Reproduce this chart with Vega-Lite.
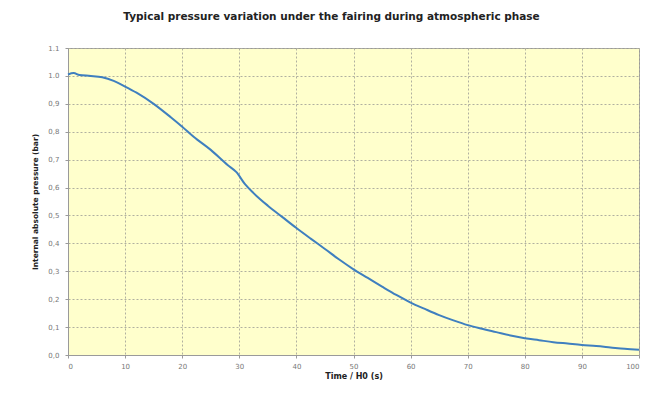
{
  "$schema": "https://vega.github.io/schema/vega-lite/v6.json",
  "width": 571,
  "height": 307,
  "autosize": {"type": "none"},
  "padding": {"left": 68, "top": 48, "right": 6, "bottom": 40},
  "background": "white",
  "title": {
    "text": "Typical pressure variation under the fairing during atmospheric phase",
    "font": "DejaVu Sans",
    "fontSize": 10.5,
    "fontWeight": "bold",
    "color": "#222222",
    "anchor": "middle",
    "dx": -22,
    "offset": 22
  },
  "config": {
    "view": {"fill": "#FFFFCC", "stroke": "#9a9a9a", "strokeWidth": 1}
  },
  "data": {
    "values": [
      {"t": 0, "p": 1.005},
      {"t": 1, "p": 1.01},
      {"t": 2, "p": 1.003},
      {"t": 4, "p": 1.0},
      {"t": 6, "p": 0.995},
      {"t": 8, "p": 0.982},
      {"t": 10, "p": 0.962},
      {"t": 12, "p": 0.94},
      {"t": 15, "p": 0.9},
      {"t": 18, "p": 0.852},
      {"t": 20, "p": 0.818},
      {"t": 22, "p": 0.782},
      {"t": 25, "p": 0.735},
      {"t": 28, "p": 0.68},
      {"t": 29.5, "p": 0.655},
      {"t": 31, "p": 0.612},
      {"t": 32.5, "p": 0.58},
      {"t": 35, "p": 0.535},
      {"t": 37.5, "p": 0.495},
      {"t": 40, "p": 0.455},
      {"t": 42.5, "p": 0.417},
      {"t": 45, "p": 0.38},
      {"t": 47.5, "p": 0.342},
      {"t": 50, "p": 0.307},
      {"t": 52.5, "p": 0.276},
      {"t": 55, "p": 0.245},
      {"t": 57.5, "p": 0.215},
      {"t": 60, "p": 0.188},
      {"t": 62.5, "p": 0.165},
      {"t": 65, "p": 0.143},
      {"t": 67.5, "p": 0.124},
      {"t": 70, "p": 0.107},
      {"t": 72.5, "p": 0.094},
      {"t": 75, "p": 0.082},
      {"t": 77.5, "p": 0.07},
      {"t": 80, "p": 0.06},
      {"t": 82.5, "p": 0.053},
      {"t": 85, "p": 0.046},
      {"t": 87.5, "p": 0.041},
      {"t": 90, "p": 0.036},
      {"t": 92.5, "p": 0.032},
      {"t": 95, "p": 0.027},
      {"t": 97.5, "p": 0.022},
      {"t": 100, "p": 0.019}
    ]
  },
  "mark": {"type": "line", "color": "#3f7fbf", "strokeWidth": 2, "interpolate": "monotone"},
  "encoding": {
    "x": {
      "field": "t",
      "type": "quantitative",
      "scale": {"domain": [0, 100], "nice": false},
      "axis": {
        "values": [0, 10, 20, 30, 40, 50, 60, 70, 80, 90, 100],
        "title": "Time / H0 (s)",
        "titleFont": "DejaVu Sans",
        "titleFontSize": 8,
        "titleFontWeight": "bold",
        "titleColor": "#222222",
        "titlePadding": 3,
        "labelFont": "DejaVu Sans",
        "labelFontSize": 7,
        "labelColor": "#777777",
        "labelPadding": 4,
        "tickSize": 3,
        "tickColor": "#9a9a9a",
        "domainColor": "#9a9a9a",
        "gridColor": "#b0b0a0",
        "gridDash": [2, 2],
        "gridWidth": 1
      }
    },
    "y": {
      "field": "p",
      "type": "quantitative",
      "scale": {"domain": [0, 1.1], "nice": false},
      "axis": {
        "values": [0, 0.1, 0.2, 0.3, 0.4, 0.5, 0.6, 0.7, 0.8, 0.9, 1.0, 1.1],
        "labelExpr": "datum.value >= 1 ? format(datum.value, '.1f') : replace(format(datum.value, '.1f'), '.', ',')",
        "title": "Internal absolute pressure (bar)",
        "titleFont": "DejaVu Sans",
        "titleFontSize": 7.5,
        "titleFontWeight": "bold",
        "titleColor": "#222222",
        "titlePadding": 8,
        "labelFont": "DejaVu Sans",
        "labelFontSize": 7,
        "labelColor": "#777777",
        "labelPadding": 6,
        "tickSize": 3,
        "tickColor": "#9a9a9a",
        "domainColor": "#9a9a9a",
        "gridColor": "#b0b0a0",
        "gridDash": [2, 2],
        "gridWidth": 1
      }
    }
  }
}
